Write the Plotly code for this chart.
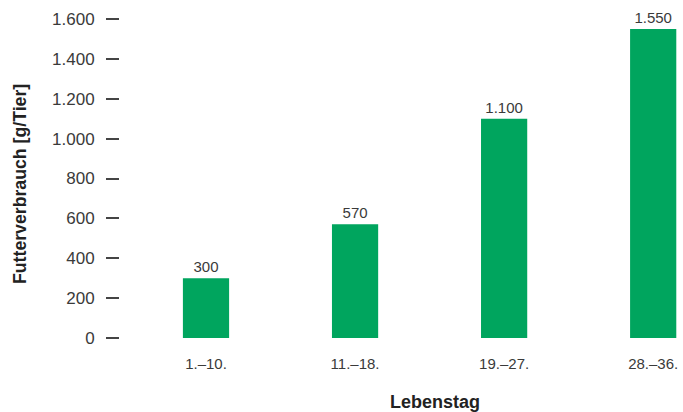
import plotly.graph_objects as go

# Feed consumption per animal by age period
perioden = ["1.–10.", "11.–18.", "19.–27.", "28.–36."]
verbrauch = [300, 570, 1100, 1550]
y_ticks = [0, 200, 400, 600, 800, 1000, 1200, 1400, 1600]

GREEN = "#00a55e"
TEXT = "#3a3a3a"
FONT = "Liberation Sans, Arial, sans-serif"

positions = list(range(len(perioden)))
labels = [f"{v:,}".replace(",", ".") for v in verbrauch]

fig = go.Figure(
    go.Bar(
        x=positions,
        y=verbrauch,
        width=0.31,
        marker=dict(color=GREEN, line=dict(width=0)),
        text=labels,
        textposition="outside",
        textfont=dict(family=FONT, size=15, color=TEXT),
        cliponaxis=False,
    )
)

fig.update_layout(
    width=683,
    height=412,
    margin=dict(l=120, r=0, t=19, b=74),
    paper_bgcolor="white",
    plot_bgcolor="white",
    separators=",.",
    showlegend=False,
    font=dict(family=FONT, color=TEXT),
    xaxis=dict(
        range=[-0.577, 3.2],
        tickmode="array",
        tickvals=positions,
        ticktext=perioden,
        showgrid=False,
        showline=False,
        zeroline=False,
        ticks="",
        ticklabelstandoff=15,
        tickfont=dict(family=FONT, size=15, color=TEXT),
    ),
    yaxis=dict(
        range=[0, 1600],
        tickmode="array",
        tickvals=y_ticks,
        tickformat=",d",
        showgrid=False,
        showline=False,
        zeroline=False,
        ticks="outside",
        ticklen=13,
        tickwidth=1.5,
        tickcolor="#444444",
        ticklabelstandoff=8,
        tickfont=dict(family=FONT, size=17, color=TEXT),
    ),
    annotations=[
        dict(
            text="<b>Lebenstag</b>",
            x=435, y=402, xref="paper", yref="paper",
            showarrow=False,
            font=dict(family=FONT, size=18, color="#222222"),
        ),
        dict(
            text="<b>Futterverbrauch [g/Tier]</b>",
            x=20, y=184, xref="paper", yref="paper",
            textangle=-90,
            showarrow=False,
            font=dict(family=FONT, size=17.7, color="#222222"),
        ),
    ],
)

# Titles are positioned in pixel terms, converted to paper fractions
W, H = 683, 412
l, r, t, b = 120, 0, 19, 74
pw, ph = W - l - r, H - t - b
for ann in fig.layout.annotations:
    px, py = ann.x, ann.y
    ann.x = (px - l) / pw
    ann.y = (H - b - py) / ph
    ann.xanchor = "center"
    ann.yanchor = "middle"

fig.write_html("out.html")
